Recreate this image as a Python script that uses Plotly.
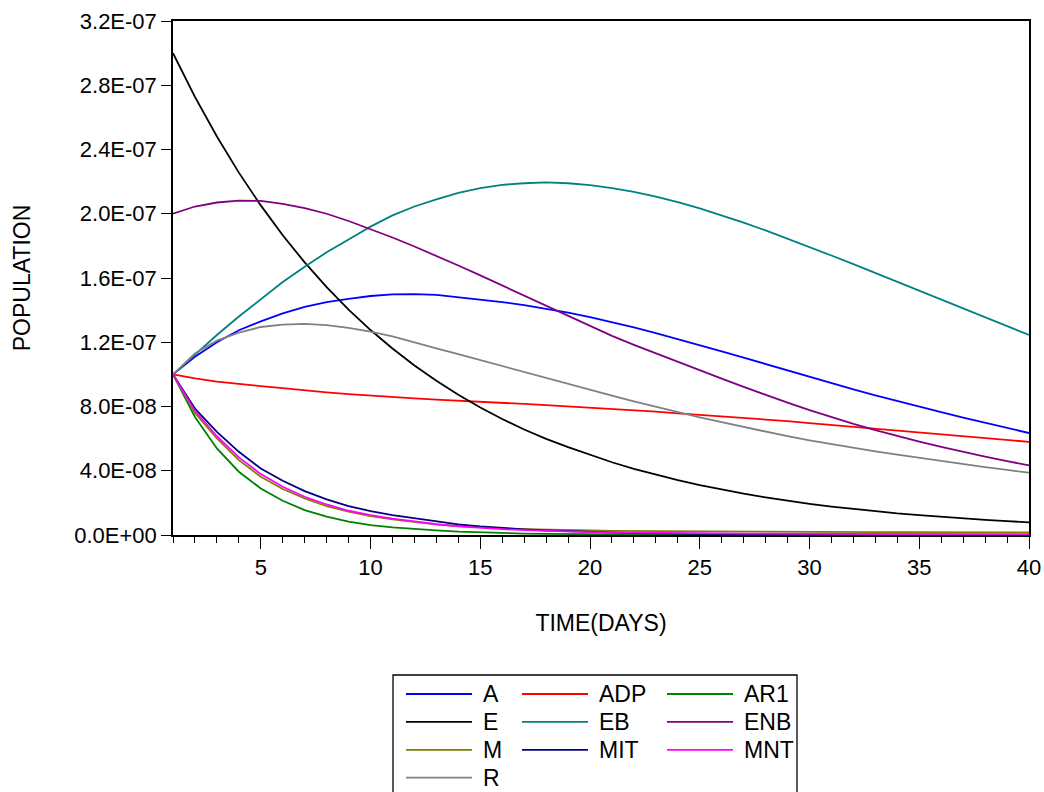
import plotly.graph_objects as go

# ---------------- data (values in units of 1e-8) ----------------
days = list(range(1, 41))
UNIT = 1e-8

A = [10.0, 11.1, 12.0, 12.75, 13.3, 13.8, 14.2, 14.5, 14.7, 14.88,
     14.98, 15.0, 14.95, 14.8, 14.66, 14.5, 14.31, 14.1, 13.85, 13.56,
     13.25, 12.92, 12.57, 12.2, 11.82, 11.43, 11.04, 10.64, 10.24, 9.85,
     9.46, 9.07, 8.7, 8.34, 7.99, 7.65, 7.31, 6.98, 6.66, 6.35]
ADP = [10.0, 9.75, 9.55, 9.4, 9.27, 9.15, 9.0, 8.88, 8.77, 8.67,
       8.58, 8.5, 8.43, 8.37, 8.3, 8.23, 8.16, 8.08, 8.0, 7.95,
       7.88, 7.8, 7.68, 7.57, 7.48, 7.38, 7.28, 7.19, 7.09, 6.97,
       6.85, 6.72, 6.6, 6.48, 6.37, 6.26, 6.15, 6.04, 5.92, 5.8]
AR1 = [10.0, 7.35, 5.39, 3.94, 2.9, 2.13, 1.55, 1.14, 0.83, 0.62,
       0.48, 0.37, 0.29, 0.21, 0.16, 0.12, 0.09, 0.07, 0.05, 0.04,
       0.03, 0.03, 0.02, 0.02, 0.02, 0.02, 0.02, 0.01, 0.01, 0.01,
       0.01, 0.01, 0.01, 0.01, 0.01, 0.01, 0.01, 0.01, 0.01, 0.01]
E = [30.0, 27.28, 24.81, 22.56, 20.52, 18.66, 16.97, 15.43, 14.03, 12.76,
     11.61, 10.55, 9.6, 8.73, 7.94, 7.22, 6.57, 5.99, 5.47, 4.98,
     4.53, 4.12, 3.75, 3.41, 3.1, 2.82, 2.57, 2.34, 2.13, 1.94,
     1.77, 1.62, 1.48, 1.35, 1.24, 1.13, 1.03, 0.94, 0.86, 0.79]
EB = [10.0, 11.25, 12.45, 13.6, 14.7, 15.75, 16.7, 17.6, 18.4, 19.2,
      19.9, 20.45, 20.9, 21.3, 21.6, 21.8, 21.9, 21.95, 21.9, 21.78,
      21.6, 21.36, 21.07, 20.73, 20.34, 19.91, 19.45, 18.96, 18.45, 17.93,
      17.4, 16.86, 16.31, 15.76, 15.2, 14.64, 14.08, 13.53, 12.98, 12.45]
ENB = [20.0, 20.45, 20.7, 20.82, 20.8, 20.62, 20.35, 20.0, 19.55, 19.05,
       18.52, 17.96, 17.38, 16.78, 16.16, 15.53, 14.89, 14.25, 13.62, 13.0,
       12.4, 11.84, 11.3, 10.77, 10.25, 9.73, 9.22, 8.72, 8.24, 7.78,
       7.34, 6.92, 6.53, 6.16, 5.81, 5.48, 5.17, 4.88, 4.6, 4.33]
M = [10.0, 7.6, 6.01, 4.66, 3.63, 2.86, 2.28, 1.8, 1.45, 1.18,
     0.97, 0.8, 0.66, 0.56, 0.48, 0.42, 0.37, 0.33, 0.3, 0.28,
     0.26, 0.25, 0.24, 0.23, 0.22, 0.21, 0.21, 0.2, 0.2, 0.19,
     0.19, 0.18, 0.18, 0.18, 0.17, 0.17, 0.17, 0.16, 0.16, 0.16]
MIT = [10.0, 7.87, 6.42, 5.18, 4.14, 3.38, 2.73, 2.22, 1.8, 1.49,
       1.24, 1.04, 0.83, 0.66, 0.53, 0.43, 0.35, 0.28, 0.23, 0.19,
       0.15, 0.12, 0.1, 0.08, 0.07, 0.06, 0.05, 0.04, 0.04, 0.03,
       0.03, 0.03, 0.03, 0.02, 0.02, 0.02, 0.02, 0.02, 0.02, 0.02]
MNT = [10.0, 7.73, 6.15, 4.83, 3.79, 3.0, 2.38, 1.9, 1.51, 1.24,
       1.02, 0.83, 0.67, 0.54, 0.44, 0.36, 0.3, 0.25, 0.21, 0.18,
       0.16, 0.14, 0.12, 0.11, 0.1, 0.09, 0.08, 0.08, 0.07, 0.07,
       0.06, 0.06, 0.06, 0.05, 0.05, 0.05, 0.05, 0.04, 0.04, 0.04]
R = [10.0, 11.3, 12.1, 12.6, 12.95, 13.1, 13.15, 13.07, 12.9, 12.66,
     12.37, 11.98, 11.62, 11.26, 10.89, 10.51, 10.13, 9.76, 9.38, 9.02,
     8.67, 8.32, 7.98, 7.65, 7.33, 7.02, 6.72, 6.43, 6.15, 5.89,
     5.65, 5.42, 5.2, 5.0, 4.8, 4.61, 4.42, 4.23, 4.05, 3.88]

series_names = ["A", "ADP", "AR1", "E", "EB", "ENB", "M", "MIT", "MNT", "R"]
series_values = [A, ADP, AR1, E, EB, ENB, M, MIT, MNT, R]
series_colors = ["#0000FF", "#FF0000", "#008000", "#000000", "#008080",
                 "#800080", "#808000", "#000080", "#FF00FF", "#808080"]

y_tickvals = [0, 4e-8, 8e-8, 1.2e-7, 1.6e-7, 2.0e-7, 2.4e-7, 2.8e-7, 3.2e-7]
y_ticktext = ["0.0E+00", "4.0E-08", "8.0E-08", "1.2E-07", "1.6E-07",
              "2.0E-07", "2.4E-07", "2.8E-07", "3.2E-07"]

# ---------------- layout constants ----------------
W, H = 1044, 792
PL, PR, PT, PB = 173, 1029, 21, 535
FONT = "Liberation Sans, Arial, sans-serif"
FS_TICK = 22
FS_TITLE = 23
FS_LEG = 23


def px_x(px):
    return (px - PL) / (PR - PL)


def px_y(py):
    return (PB - py) / (PB - PT)


fig = go.Figure()
for name, vals, col in zip(series_names, series_values, series_colors):
    fig.add_trace(go.Scatter(
        x=days, y=[v * UNIT for v in vals], mode="lines", name=name,
        line=dict(color=col, width=1.8), showlegend=False,
        hovertemplate=name + ": %{y:.3e}<extra></extra>"))

# ---------------- custom legend (EViews style) ----------------
shapes = [dict(type="rect", xref="paper", yref="paper",
               x0=px_x(393), x1=px_x(797), y0=px_y(675), y1=px_y(810),
               line=dict(color="black", width=1.3), fillcolor="white", layer="above")]
annotations = []
col_x = [406, 522, 667]
row_y0, row_step = 694, 27.9
for i, (name, col) in enumerate(zip(series_names, series_colors)):
    r, c = divmod(i, 3)
    yy = row_y0 + r * row_step
    shapes.append(dict(type="line", xref="paper", yref="paper",
                       x0=px_x(col_x[c]), x1=px_x(col_x[c] + 66),
                       y0=px_y(yy), y1=px_y(yy),
                       line=dict(color=col, width=1.8), layer="above"))
    annotations.append(dict(xref="paper", yref="paper",
                            x=px_x(col_x[c] + 75), y=px_y(yy),
                            text=name, showarrow=False, xanchor="left",
                            yanchor="middle",
                            font=dict(family=FONT, size=FS_LEG, color="black")))

fig.update_layout(
    width=W, height=H, autosize=False,
    margin=dict(l=PL, r=W - PR, t=PT, b=H - PB, pad=0, autoexpand=False),
    paper_bgcolor="white", plot_bgcolor="white",
    font=dict(family=FONT, size=FS_TICK, color="black"),
    showlegend=False,
    shapes=shapes, annotations=annotations,
    xaxis=dict(
        range=[1, 40], tickmode="linear", tick0=0, dtick=5, automargin=False,
        ticks="outside", ticklen=12, tickwidth=1, tickcolor="black",
        showline=True, linecolor="black", linewidth=1.5, mirror=True,
        showgrid=False, zeroline=False,
        tickfont=dict(family=FONT, size=FS_TICK, color="black"),
        minor=dict(dtick=1, tick0=0, ticks="outside", ticklen=6,
                   tickwidth=1, tickcolor="black", showgrid=False),
        title=dict(text="TIME(DAYS)", standoff=36,
                   font=dict(family=FONT, size=FS_TITLE, color="black")),
    ),
    yaxis=dict(
        range=[0, 3.2e-7], tickmode="array", tickvals=y_tickvals,
        ticktext=y_ticktext, automargin=False,
        ticks="outside", ticklen=10, tickwidth=1, tickcolor="black",
        showline=True, linecolor="black", linewidth=1.5, mirror=True,
        showgrid=False, zeroline=False,
        tickfont=dict(family=FONT, size=FS_TICK, color="black"),
        title=dict(text="POPULATION", standoff=37,
                   font=dict(family=FONT, size=FS_TITLE, color="black")),
    ),
)

fig.write_html("out.html")
